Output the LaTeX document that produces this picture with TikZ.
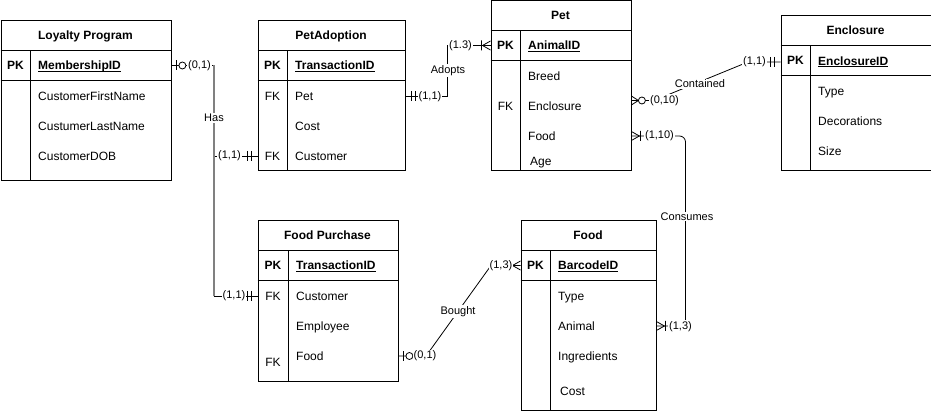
\documentclass[tikz,border=0pt]{standalone}
\usepackage{fontspec}
\setmainfont{Liberation Sans}
\definecolor{hasgray}{HTML}{808080}
\newcommand\pkul[1]{\textbf{\underline{\smash{#1}}}}
\tikzset{
	tbox/.style={draw,line width=0.9pt,anchor=north west,inner sep=0pt},
	tline/.style={line width=0.9pt},
	ttl/.style={font=\bfseries\fontsize{12}{14}\selectfont,inner sep=0pt,text height=8.6pt,text depth=0pt},
	key/.style={font=\fontsize{12}{14}\selectfont,inner sep=0pt,text height=8.6pt,text depth=0pt},
	fld/.style={font=\fontsize{12}{14}\selectfont,anchor=west,inner sep=0pt,text height=8.6pt,text depth=0pt},
	conn/.style={line width=0.8pt},
	hasline/.style={hasgray,line width=2pt},
	card/.style={font=\fontsize{11}{13}\selectfont,fill=white,inner sep=1pt},
	rel/.style={font=\fontsize{11}{13}\selectfont,fill=white,inner sep=1pt},
	erm/.style={line width=0.8pt},
	mone/.pic={\draw[erm] (6,-5) -- (6,5) (10,-5) -- (10,5);},
	zone/.pic={\draw[erm] (5,-5) -- (5,5); \draw[erm,fill=white] (11,0) circle[radius=3.5pt];},
	omany/.pic={\draw[erm] (0,-4.5) -- (8,0) -- (0,4.5) (9,-5) -- (9,5);},
	zmany/.pic={\draw[erm] (0,-4.5) -- (7,0) -- (0,4.5); \draw[erm,fill=white] (10.5,0) circle[radius=3.5pt];},
	many/.pic={\draw[erm] (0,-4.5) -- (8,0) -- (0,4.5);},
}
\begin{document}
\begin{tikzpicture}[x=1pt,y=-1pt]
	\useasboundingbox (0,0) rectangle (931,411);
	% Loyalty Program
	\node[tbox,minimum width=170pt,minimum height=160pt] (lp) at (0.5,20.5) {};
	\draw[tline] (0.5,50.5) -- (170.5,50.5) (0.5,80.5) -- (170.5,80.5) (30.5,50.5) -- (30.5,180.5);
	\node[ttl] (lpT) at (85.5,35.5) {Loyalty Program};
	\node[ttl] (lpK) at (15.5,65.5) {PK};
	\node[fld] (lpID) at (38,65.5) {\pkul{MembershipID}};
	\node[fld] (lpFirst) at (38,96) {CustomerFirstName};
	\node[fld] (lpLast) at (38,126) {CustumerLastName};
	\node[fld] (lpDOB) at (38,156) {CustomerDOB};
	% PetAdoption
	\node[tbox,minimum width=147pt,minimum height=150pt] (pa) at (257.5,20.5) {};
	\draw[tline] (257.5,50.5) -- (404.5,50.5) (257.5,80.5) -- (404.5,80.5) (287.5,50.5) -- (287.5,170.5);
	\node[ttl] (paT) at (331,35.5) {PetAdoption};
	\node[ttl] (paK) at (272.5,65.5) {PK};
	\node[fld] (paID) at (295,65.5) {\pkul{TransactionID}};
	\node[key] (paK1) at (272.5,96) {FK};
	\node[fld] (paPet) at (295,96) {Pet};
	\node[fld] (paCost) at (295,126) {Cost};
	\node[key] (paK2) at (272.5,156) {FK};
	\node[fld] (paCust) at (295,156) {Customer};
	% Pet
	\node[tbox,minimum width=140pt,minimum height=170pt] (pt) at (490.5,0.5) {};
	\draw[tline] (490.5,30.5) -- (630.5,30.5) (490.5,60.5) -- (630.5,60.5) (520.5,30.5) -- (520.5,170.5);
	\node[ttl] (ptT) at (560.5,15.5) {Pet};
	\node[ttl] (ptK) at (505.5,45.5) {PK};
	\node[fld] (ptID) at (528,45.5) {\pkul{AnimalID}};
	\node[fld] (ptBreed) at (528,76) {Breed};
	\node[key] (ptK1) at (505.5,106) {FK};
	\node[fld] (ptEnc) at (528,106) {Enclosure};
	\node[fld] (ptFood) at (528,136) {Food};
	\node[fld] (ptAge) at (530,161) {Age};
	% Enclosure
	\node[tbox,minimum width=150pt,minimum height=155pt] (en) at (780.5,15.5) {};
	\draw[tline] (780.5,45.5) -- (930.5,45.5) (780.5,75.5) -- (930.5,75.5) (810.5,45.5) -- (810.5,170.5);
	\node[ttl] (enT) at (855.5,30.5) {Enclosure};
	\node[ttl] (enK) at (795.5,60.5) {PK};
	\node[fld] (enID) at (818,61) {\pkul{EnclosureID}};
	\node[fld] (enType) at (818,91) {Type};
	\node[fld] (enDec) at (818,121) {Decorations};
	\node[fld] (enSize) at (818,151) {Size};
	% Food Purchase
	\node[tbox,minimum width=140pt,minimum height=160pt] (fp) at (257.5,220.5) {};
	\draw[tline] (257.5,250.5) -- (397.5,250.5) (257.5,280.5) -- (397.5,280.5) (288.5,250.5) -- (288.5,380.5);
	\node[ttl] (fpT) at (327.5,235.5) {Food Purchase};
	\node[ttl] (fpK) at (273,265.5) {PK};
	\node[fld] (fpID) at (296,265.5) {\pkul{TransactionID}};
	\node[key] (fpK1) at (273,296) {FK};
	\node[fld] (fpCust) at (296,296) {Customer};
	\node[fld] (fpEmp) at (296,326) {Employee};
	\node[fld] (fpFood) at (296,356) {Food};
	\node[key] (fpK2) at (273,362) {FK};
	% Food
	\node[tbox,minimum width=135pt,minimum height=189.5pt] (fd) at (520.5,220.5) {};
	\draw[tline] (520.5,250.5) -- (655.5,250.5) (520.5,280.5) -- (655.5,280.5) (550.5,250.5) -- (550.5,410);
	\node[ttl] (fdT) at (588,235.5) {Food};
	\node[ttl] (fdK) at (535.5,265.5) {PK};
	\node[fld] (fdID) at (558,265.5) {\pkul{BarcodeID}};
	\node[fld] (fdType) at (558,296) {Type};
	\node[fld] (fdAnimal) at (558,326) {Animal};
	\node[fld] (fdIngr) at (558,356) {Ingredients};
	\node[fld] (fdCost) at (560,391) {Cost};
	% relations
	\coordinate (hasTop) at (213.5,65.5);
	\coordinate (hasBot) at (213.5,296);
	\coordinate (adMid) at (447.5,70.5);
	\coordinate (ctA) at (654,100.5);
	\coordinate (ctB) at (748,62);
	\coordinate (csMid) at (685.5,216.5);
	\coordinate (btA) at (426,356);
	\coordinate (btB) at (491,265.5);
	\draw[conn] (lp.east |- lpID) -- (hasTop);
	\draw[conn] (hasTop |- paCust) -- (pa.west |- paCust);
	\draw[conn] (hasBot) -- (fp.west |- fpCust);
	\draw[hasline] (hasTop) -- (hasBot);
	\draw[conn] (pa.east |- paPet) -| (adMid) |- (pt.west |- ptID);
	\draw[conn] (pt.east |- ctA) -- (ctA) -- (ctB) -- (en.west |- ctB);
	\draw[conn,rounded corners=6pt] (pt.east |- ptFood) -| (csMid) |- (fd.east |- fdAnimal);
	\draw[conn] (fp.east |- fpFood) -- (btA) -- (btB) -- (fd.west |- fdID);
	\pic at (lp.east |- lpID) {zone};
	\pic[xscale=-1] at (pa.west |- paCust) {mone};
	\pic[xscale=-1] at (fp.west |- fpCust) {mone};
	\pic at (pa.east |- paPet) {mone};
	\pic[xscale=-1] at (pt.west |- ptID) {omany};
	\pic at (pt.east |- ctA) {zmany};
	\pic[xscale=-1] at (en.west |- ctB) {mone};
	\pic at (pt.east |- ptFood) {omany};
	\pic at (fd.east |- fdAnimal) {omany};
	\pic at (fp.east |- fpFood) {zone};
	\pic[xscale=-1] at (fd.west |- fdID) {many};
	\node[card] (c1) at (199.5,65.5) {(0,1)};
	\node[rel] (hasL) at (214,118) {Has};
	\node[card] (c2) at (229.5,156) {(1,1)};
	\node[card] (c3) at (234,296) {(1,1)};
	\node[card] (c4) at (430,96.5) {(1,1)};
	\node[rel] (adL) at (448,70.5) {Adopts};
	\node[card] (c5) at (460.5,46) {(1.3)};
	\node[card] (c6) at (664.5,100.5) {(0,10)};
	\node[rel] (ctL) at (700,84) {Contained};
	\node[card] (c7) at (754.5,62) {(1,1)};
	\node[card] (c8) at (659.5,135.5) {(1,10)};
	\node[rel] (csL) at (687,216.5) {Consumes};
	\node[card] (c9) at (680.5,326.5) {(1,3)};
	\node[card] (c10) at (425,356) {(0,1)};
	\node[rel] (btL) at (458,311.5) {Bought};
	\node[card] (c11) at (501,266) {(1,3)};
\end{tikzpicture}
\end{document}
